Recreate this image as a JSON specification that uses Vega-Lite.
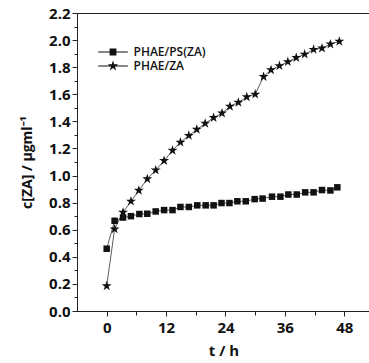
{
  "$schema": "https://vega.github.io/schema/vega-lite/v6.json",
  "width": 293,
  "height": 298,
  "autosize": "none",
  "padding": {"left": 77, "top": 13, "right": 0, "bottom": 52},
  "background": "white",
  "config": {
    "view": {"stroke": "#222", "strokeWidth": 1},
    "font": "Open Sans",
    "axis": {"domainColor": "#222", "tickColor": "#222", "labelColor": "#111", "titleColor": "#111", "grid": false, "labelFont": "Open Sans", "titleFont": "Open Sans"},
    "legend": {"padding": 0}
  },
  "data": {"values": [
    {"t": 0, "c": 0.46, "s": "PHAE/PS(ZA)"},
    {"t": 1.6, "c": 0.666, "s": "PHAE/PS(ZA)"},
    {"t": 3.3, "c": 0.69, "s": "PHAE/PS(ZA)"},
    {"t": 4.9, "c": 0.70, "s": "PHAE/PS(ZA)"},
    {"t": 6.6, "c": 0.716, "s": "PHAE/PS(ZA)"},
    {"t": 8.2, "c": 0.718, "s": "PHAE/PS(ZA)"},
    {"t": 9.9, "c": 0.735, "s": "PHAE/PS(ZA)"},
    {"t": 11.6, "c": 0.745, "s": "PHAE/PS(ZA)"},
    {"t": 13.3, "c": 0.745, "s": "PHAE/PS(ZA)"},
    {"t": 14.9, "c": 0.768, "s": "PHAE/PS(ZA)"},
    {"t": 16.6, "c": 0.768, "s": "PHAE/PS(ZA)"},
    {"t": 18.3, "c": 0.78, "s": "PHAE/PS(ZA)"},
    {"t": 20.0, "c": 0.78, "s": "PHAE/PS(ZA)"},
    {"t": 21.6, "c": 0.78, "s": "PHAE/PS(ZA)"},
    {"t": 23.2, "c": 0.797, "s": "PHAE/PS(ZA)"},
    {"t": 24.8, "c": 0.797, "s": "PHAE/PS(ZA)"},
    {"t": 26.4, "c": 0.81, "s": "PHAE/PS(ZA)"},
    {"t": 28.1, "c": 0.81, "s": "PHAE/PS(ZA)"},
    {"t": 29.9, "c": 0.826, "s": "PHAE/PS(ZA)"},
    {"t": 31.5, "c": 0.83, "s": "PHAE/PS(ZA)"},
    {"t": 33.4, "c": 0.844, "s": "PHAE/PS(ZA)"},
    {"t": 35.1, "c": 0.844, "s": "PHAE/PS(ZA)"},
    {"t": 36.7, "c": 0.86, "s": "PHAE/PS(ZA)"},
    {"t": 38.4, "c": 0.86, "s": "PHAE/PS(ZA)"},
    {"t": 40.1, "c": 0.876, "s": "PHAE/PS(ZA)"},
    {"t": 41.8, "c": 0.876, "s": "PHAE/PS(ZA)"},
    {"t": 43.5, "c": 0.893, "s": "PHAE/PS(ZA)"},
    {"t": 45.2, "c": 0.89, "s": "PHAE/PS(ZA)"},
    {"t": 46.6, "c": 0.913, "s": "PHAE/PS(ZA)"},
    {"t": 0, "c": 0.185, "s": "PHAE/ZA"},
    {"t": 1.6, "c": 0.605, "s": "PHAE/ZA"},
    {"t": 3.3, "c": 0.728, "s": "PHAE/ZA"},
    {"t": 4.9, "c": 0.81, "s": "PHAE/ZA"},
    {"t": 6.5, "c": 0.89, "s": "PHAE/ZA"},
    {"t": 8.2, "c": 0.975, "s": "PHAE/ZA"},
    {"t": 9.9, "c": 1.04, "s": "PHAE/ZA"},
    {"t": 11.6, "c": 1.11, "s": "PHAE/ZA"},
    {"t": 13.3, "c": 1.185, "s": "PHAE/ZA"},
    {"t": 14.9, "c": 1.245, "s": "PHAE/ZA"},
    {"t": 16.6, "c": 1.295, "s": "PHAE/ZA"},
    {"t": 18.2, "c": 1.34, "s": "PHAE/ZA"},
    {"t": 19.9, "c": 1.385, "s": "PHAE/ZA"},
    {"t": 21.6, "c": 1.427, "s": "PHAE/ZA"},
    {"t": 23.3, "c": 1.46, "s": "PHAE/ZA"},
    {"t": 24.9, "c": 1.51, "s": "PHAE/ZA"},
    {"t": 26.6, "c": 1.54, "s": "PHAE/ZA"},
    {"t": 28.3, "c": 1.58, "s": "PHAE/ZA"},
    {"t": 30.0, "c": 1.60, "s": "PHAE/ZA"},
    {"t": 31.7, "c": 1.73, "s": "PHAE/ZA"},
    {"t": 33.2, "c": 1.78, "s": "PHAE/ZA"},
    {"t": 34.9, "c": 1.81, "s": "PHAE/ZA"},
    {"t": 36.6, "c": 1.84, "s": "PHAE/ZA"},
    {"t": 38.3, "c": 1.87, "s": "PHAE/ZA"},
    {"t": 40.0, "c": 1.895, "s": "PHAE/ZA"},
    {"t": 41.8, "c": 1.93, "s": "PHAE/ZA"},
    {"t": 43.5, "c": 1.94, "s": "PHAE/ZA"},
    {"t": 45.2, "c": 1.97, "s": "PHAE/ZA"},
    {"t": 47.0, "c": 1.99, "s": "PHAE/ZA"}
  ]},
  "encoding": {
    "x": {
      "field": "t", "type": "quantitative",
      "scale": {"domain": [-6, 53.2], "nice": false, "zero": false},
      "axis": {
        "title": "t / h",
        "values": [0, 6, 12, 18, 24, 30, 36, 42, 48],
        "labelExpr": "datum.value % 12 == 0 ? datum.value : ''",
        "labelOverlap": false,
        "labelFontSize": 15, "labelFontWeight": "bold", "labelPadding": 4,
        "tickSize": {"condition": {"test": "datum.value % 12 == 0", "value": 5}, "value": 4},
        "titleFontSize": 15, "titleFontWeight": "bold", "titlePadding": 8
      }
    },
    "y": {
      "field": "c", "type": "quantitative",
      "scale": {"domain": [0, 2.2], "nice": false},
      "axis": {
        "title": "c[ZA] / μgml⁻¹",
        "values": [0, 0.1, 0.2, 0.3, 0.4, 0.5, 0.6, 0.7, 0.8, 0.9, 1.0, 1.1, 1.2, 1.3, 1.4, 1.5, 1.6, 1.7, 1.8, 1.9, 2.0, 2.1, 2.2],
        "labelExpr": "round(datum.value * 10) % 2 == 0 ? format(datum.value, '.1f') : ''",
        "labelOverlap": false,
        "labelFontSize": 15, "labelFontWeight": "bold", "labelPadding": 2,
        "tickSize": {"condition": {"test": "round(datum.value * 10) % 2 == 0", "value": 5}, "value": 3},
        "titleFontSize": 14, "titleFontWeight": "bold", "titlePadding": 14
      }
    }
  },
  "layer": [
    {
      "mark": {"type": "line", "color": "#333", "strokeWidth": 0.8},
      "encoding": {"detail": {"field": "s"}}
    },
    {
      "mark": {"type": "point", "filled": true, "color": "#111", "opacity": 1, "size": 110, "strokeWidth": 0},
      "encoding": {
        "shape": {
          "field": "s", "type": "nominal",
          "scale": {"domain": ["PHAE/PS(ZA)", "PHAE/ZA"], "range": ["M-0.62,-0.62H0.62V0.62H-0.62Z", "M0,-1L0.225,-0.309L0.951,-0.309L0.363,0.118L0.588,0.809L0,0.382L-0.588,0.809L-0.363,0.118L-0.951,-0.309L-0.225,-0.309Z"]},
          "legend": null
        }
      }
    },
    {
      "mark": {"type": "point", "filled": true, "color": "#111", "opacity": 0, "size": 121, "strokeWidth": 0},
      "encoding": {
        "shape": {
          "field": "s", "type": "nominal",
          "scale": {"domain": ["PHAE/PS(ZA)", "PHAE/ZA"], "range": ["M-2.7,-0.08H2.7V0.08H-2.7ZM-0.62,-0.62H0.62V0.62H-0.62Z", "M-2.7,-0.08H2.7V0.08H-2.7ZM0,-1L0.225,-0.309L0.951,-0.309L0.363,0.118L0.588,0.809L0,0.382L-0.588,0.809L-0.363,0.118L-0.951,-0.309L-0.225,-0.309Z"]},
          "legend": {
            "title": null,
            "orient": "none",
            "legendX": 30,
            "legendY": 33,
            "symbolSize": 121,
            "symbolOpacity": 1,
            "symbolFillColor": "#111",
            "symbolStrokeColor": "#333",
            "symbolStrokeWidth": 0,
            "labelOffset": 14.5,
            "labelFontSize": 12,
            "labelFontWeight": 600,
            "labelFont": "Open Sans",
            "labelColor": "#111",
            "rowPadding": 2,
            "encode": {
              "symbols": {
                "update": {
                  "fill": {"value": "#111"},
                  "opacity": {"value": 1}
                }
              }
            }
          }
        }
      }
    }
  ],
  "resolve": {"scale": {"shape": "independent"}, "legend": {"shape": "independent"}}
}
